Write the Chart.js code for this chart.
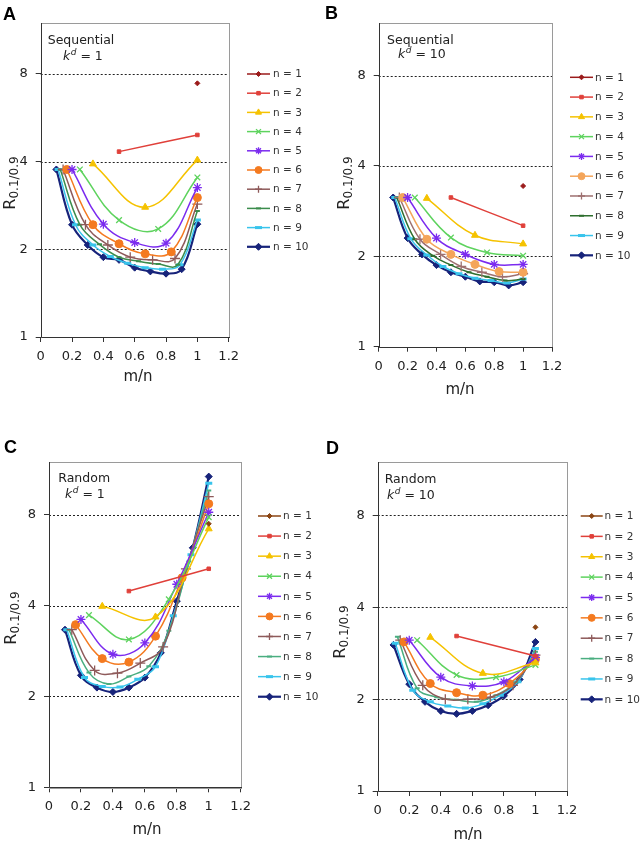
<!DOCTYPE html>
<html>
<head>
<meta charset="utf-8">
<script src="https://cdn.jsdelivr.net/npm/chart.js@4.4.0/dist/chart.umd.min.js"></script>
<style>
  body { margin: 0; background: #fff; width: 644px; height: 845px; position: relative; overflow: hidden; }
  canvas { position: absolute; }
</style>
</head>
<body>
<canvas id="chartA" width="322" height="420" style="left:0;top:0"></canvas>
<canvas id="chartB" width="322" height="420" style="left:322px;top:0"></canvas>
<canvas id="chartC" width="322" height="425" style="left:0;top:420px"></canvas>
<canvas id="chartD" width="322" height="425" style="left:322px;top:420px"></canvas>
<script>
// series labels and axis ticks
const seriesLabels = ["n = 1", "n = 2", "n = 3", "n = 4", "n = 5", "n = 6", "n = 7", "n = 8", "n = 9", "n = 10"];
const xTicks = [0, 0.2, 0.4, 0.6, 0.8, 1, 1.2];
const yTicks = [1, 2, 4, 8];
const yGridValues = [2, 4, 8];

// R values, one list per n (point m sits at x = m/n)
const seqK1 = [
	[7.43],
	[4.33, 4.94],
	[3.93, 2.79, 4.05],
	[3.76, 2.52, 2.35, 3.53],
	[3.76, 2.44, 2.11, 2.10, 3.26],
	[3.76, 2.43, 2.09, 1.93, 1.96, 3.01],
	[3.76, 2.43, 2.07, 1.88, 1.84, 1.86, 2.86],
	[3.76, 2.43, 2.08, 1.88, 1.82, 1.78, 1.77, 2.71],
	[3.76, 2.43, 2.07, 1.89, 1.79, 1.73, 1.71, 1.77, 2.52],
	[3.76, 2.43, 2.07, 1.88, 1.84, 1.73, 1.68, 1.65, 1.71, 2.44]
];
const seqK10 = [
	[3.43],
	[3.14, 2.53],
	[3.12, 2.35, 2.20],
	[3.14, 2.31, 2.06, 2.01],
	[3.14, 2.30, 2.03, 1.88, 1.88],
	[3.14, 2.28, 2.03, 1.88, 1.78, 1.77],
	[3.14, 2.28, 2.03, 1.85, 1.77, 1.71, 1.75],
	[3.14, 2.28, 2.01, 1.87, 1.77, 1.71, 1.66, 1.68],
	[3.14, 2.29, 2.02, 1.85, 1.75, 1.69, 1.66, 1.63, 1.68],
	[3.14, 2.30, 2.03, 1.87, 1.77, 1.71, 1.65, 1.64, 1.60, 1.64]
];
const randK1 = [
	[7.47],
	[4.47, 5.30],
	[3.98, 3.67, 7.19],
	[3.72, 3.09, 4.20, 7.86],
	[3.60, 2.76, 3.01, 4.71, 8.16],
	[3.46, 2.67, 2.60, 3.17, 4.95, 8.70],
	[3.33, 2.44, 2.39, 2.58, 2.92, 5.30, 9.19],
	[3.33, 2.40, 2.20, 2.33, 2.52, 3.30, 5.60, 9.63],
	[3.33, 2.31, 2.16, 2.15, 2.28, 2.51, 3.70, 5.90, 10.18],
	[3.33, 2.35, 2.14, 2.07, 2.14, 2.31, 2.79, 4.14, 6.22, 10.71]
];
const randK10 = [
	[3.44],
	[3.22, 2.77],
	[3.19, 2.43, 2.63],
	[3.12, 2.40, 2.36, 2.59],
	[3.12, 2.36, 2.21, 2.28, 2.74],
	[3.08, 2.25, 2.10, 2.06, 2.25, 2.70],
	[3.12, 2.22, 2.00, 2.00, 2.03, 2.22, 2.79],
	[3.20, 2.17, 2.03, 1.99, 1.96, 2.06, 2.27, 2.86],
	[3.05, 2.14, 1.96, 1.90, 1.87, 1.93, 2.06, 2.28, 2.93],
	[3.01, 2.24, 1.96, 1.83, 1.79, 1.83, 1.91, 2.05, 2.32, 3.08]
];

// colours and markers
const seqK1Colors = ["#9b1b1b", "#e0403a", "#f5c200", "#5ed35e", "#7b2bef", "#f47a20", "#8e5a5a", "#3b8c4c", "#38c4ec", "#17237a"];
const seqK10Colors = ["#9b1b1b", "#e0403a", "#f5c200", "#5ed35e", "#7b2bef", "#f4a55a", "#9e7070", "#2e6f2e", "#38c4ec", "#17237a"];
const randColors = ["#8b4513", "#e0403a", "#f5c200", "#5ed35e", "#7b2bef", "#f47a20", "#8e5a5a", "#4aae80", "#38c4ec", "#17237a"];
const markerStyles = ["rectRot", "rect", "triangle", "crossRot", "star", "circle", "cross", "line", "line", "rectRot"];
const markerSizes = [2.5, 2.5, 4, 4, 4.5, 4, 5, 2.5, 3.5, 3.5];
const markerBorders = [1, 1, 1, 1.3, 1.3, 1, 1.3, 2, 3, 1];

Chart.defaults.font.family = "'DejaVu Sans', Verdana, sans-serif";
Chart.defaults.color = "#222";

const AXIS_W = 30;
const AXIS_H = 30;

// draws frame, dotted grid, panel letter, note, axis titles and the legend
const decoPlugin = {
	id: "deco",
	beforeDatasetsDraw(chart) {
		const ctx = chart.ctx;
		const a = chart.chartArea;
		const ys = chart.scales.y;
		ctx.save();
		ctx.lineWidth = 1;
		ctx.strokeStyle = "#222";
		ctx.setLineDash([2, 2]);
		yGridValues.forEach((v) => {
			const py = Math.round(ys.getPixelForValue(v)) + 0.5;
			ctx.beginPath();
			ctx.moveTo(a.left, py);
			ctx.lineTo(a.right, py);
			ctx.stroke();
		});
		ctx.setLineDash([]);
		ctx.strokeStyle = "#9a9a9a";
		ctx.strokeRect(Math.round(a.left) + 0.5, Math.round(a.top) + 0.5, Math.round(a.right - a.left), Math.round(a.bottom - a.top));
		ctx.strokeStyle = "#333";
		ctx.beginPath();
		ctx.moveTo(Math.round(a.left) + 0.5, Math.round(a.top));
		ctx.lineTo(Math.round(a.left) + 0.5, Math.round(a.bottom) + 0.5);
		ctx.lineTo(Math.round(a.right) + 1, Math.round(a.bottom) + 0.5);
		ctx.stroke();
		ctx.restore();
	},
	afterDraw(chart, args, o) {
		const ctx = chart.ctx;
		ctx.save();

		// panel letter
		ctx.fillStyle = "#000";
		ctx.font = "bold 18px 'Liberation Sans', Arial, sans-serif";
		ctx.textBaseline = "alphabetic";
		ctx.fillText(o.letter, o.letterPos[0], o.letterPos[1]);

		// Sequential / Random and k^d
		ctx.fillStyle = "#222";
		ctx.textBaseline = "middle";
		ctx.font = "12.5px 'DejaVu Sans'";
		ctx.fillText(o.mode, o.modePos[0], o.modePos[1]);
		let x = o.kPos[0];
		const ky = o.kPos[1];
		ctx.font = "italic 12.5px 'DejaVu Sans'";
		ctx.fillText("k", x, ky);
		x += ctx.measureText("k").width + 0.5;
		ctx.font = "italic 9px 'DejaVu Sans'";
		ctx.fillText("d", x, ky - 4);
		x += ctx.measureText("d").width;
		ctx.font = "12.5px 'DejaVu Sans'";
		ctx.fillText(" = " + o.kd, x, ky);

		// x title
		ctx.textAlign = "center";
		ctx.font = "15px 'DejaVu Sans'";
		ctx.fillText("m/n", o.xTitlePos[0], o.xTitlePos[1]);

		// y title R_0.1/0.9 rotated
		ctx.save();
		ctx.translate(o.yTitlePos[0], o.yTitlePos[1]);
		ctx.rotate(-Math.PI / 2);
		ctx.textAlign = "left";
		ctx.font = "16px 'DejaVu Sans'";
		const wR = ctx.measureText("R").width;
		ctx.font = "12px 'DejaVu Sans'";
		const wS = ctx.measureText("0.1/0.9").width;
		const x0 = -(wR + wS) / 2;
		ctx.font = "16px 'DejaVu Sans'";
		ctx.fillText("R", x0, 0);
		ctx.font = "12px 'DejaVu Sans'";
		ctx.fillText("0.1/0.9", x0 + wR, 4);
		ctx.restore();

		// legend: line with marker, then label
		const lg = o.legend;
		chart.data.datasets.forEach((ds, i) => {
			const y = lg.y0 + i * lg.dy;
			ctx.strokeStyle = ds.borderColor;
			ctx.fillStyle = ds.borderColor;
			ctx.lineWidth = ds.borderWidth;
			ctx.beginPath();
			ctx.moveTo(lg.x0, y);
			ctx.lineTo(lg.x1, y);
			ctx.stroke();
			ctx.lineWidth = ds.pointBorderWidth;
			Chart.helpers.drawPoint(ctx, {
				pointStyle: ds.pointStyle,
				radius: Math.min(ds.pointRadius, 3.5),
				borderWidth: ds.pointBorderWidth,
				rotation: 0
			}, (lg.x0 + lg.x1) / 2, y);
			ctx.fillStyle = "#333";
			ctx.textAlign = "left";
			ctx.font = "10.5px 'DejaVu Sans'";
			ctx.fillText(ds.label, lg.tx, y + 0.5);
		});
		ctx.restore();
	}
};

function makePanel(canvasId, values, colors, area, deco) {
	const canvas = document.getElementById(canvasId);
	const W = canvas.width;
	const H = canvas.height;

	const datasets = values.map((vals, i) => {
		const n = i + 1;
		return {
			label: seriesLabels[i],
			data: vals.map((v, k) => ({ x: (k + 1) / n, y: v })),
			borderColor: colors[i],
			backgroundColor: colors[i],
			borderWidth: n === 10 ? 2.2 : 1.5,
			pointStyle: markerStyles[i],
			pointRadius: markerSizes[i],
			pointBorderWidth: markerBorders[i],
			pointBackgroundColor: colors[i],
			pointBorderColor: colors[i],
			tension: 0.4,
			fill: false
		};
	});

	return new Chart(canvas, {
		type: "line",
		data: { datasets: datasets },
		plugins: [decoPlugin],
		options: {
			responsive: false,
			animation: false,
			devicePixelRatio: 1,
			layout: {
				padding: {
					left: area.left - AXIS_W,
					top: area.top,
					right: W - area.right,
					bottom: H - area.bottom - AXIS_H
				}
			},
			plugins: {
				legend: { display: false },
				tooltip: { enabled: false },
				deco: deco
			},
			scales: {
				x: {
					type: "linear",
					min: 0,
					max: 1.2,
					afterBuildTicks: (s) => { s.ticks = xTicks.map((v) => ({ value: v })); },
					afterFit: (s) => { s.height = AXIS_H; },
					ticks: {
						font: { size: 13 },
						color: "#222",
						padding: 7,
						maxRotation: 0,
						autoSkip: false,
						callback: (v) => String(v)
					},
					grid: {
						drawOnChartArea: false,
						drawTicks: true,
						tickLength: 5,
						tickColor: "#333"
					},
					border: { display: false }
				},
				y: {
					type: "logarithmic",
					min: 1,
					max: 12,
					afterBuildTicks: (s) => { s.ticks = yTicks.map((v) => ({ value: v })); },
					afterFit: (s) => { s.width = AXIS_W; },
					ticks: {
						font: { size: 13 },
						color: "#222",
						padding: 8,
						autoSkip: false,
						callback: (v) => String(v)
					},
					grid: {
						drawOnChartArea: false,
						drawTicks: true,
						tickLength: 5,
						tickColor: "#333"
					},
					border: { display: false }
				}
			}
		}
	});
}

makePanel("chartA", seqK1, seqK1Colors,
	{ left: 40.7, top: 22.7, right: 228.7, bottom: 337 },
	{
		letter: "A", letterPos: [3, 20],
		mode: "Sequential", modePos: [47.7, 41], kd: "1", kPos: [63, 57],
		xTitlePos: [138, 377], yTitlePos: [11, 183],
		legend: { x0: 247, x1: 270, tx: 273, y0: 74, dy: 19.2 }
	});

makePanel("chartB", seqK10, seqK10Colors,
	{ left: 56.7, top: 22.7, right: 230, bottom: 346.7 },
	{
		letter: "B", letterPos: [3, 18.5],
		mode: "Sequential", modePos: [65, 41], kd: "10", kPos: [76, 55],
		xTitlePos: [138, 390], yTitlePos: [23, 183],
		legend: { x0: 248, x1: 271, tx: 273, y0: 77.3, dy: 19.78 }
	});

makePanel("chartC", randK1, randColors,
	{ left: 49, top: 41.7, right: 240.7, bottom: 367.3 },
	{
		letter: "C", letterPos: [4, 33],
		mode: "Random", modePos: [58.3, 59], kd: "1", kPos: [65, 75],
		xTitlePos: [147, 410], yTitlePos: [12, 198],
		legend: { x0: 258, x1: 281, tx: 283, y0: 96, dy: 20.08 }
	});

makePanel("chartD", randK10, randColors,
	{ left: 55.7, top: 41.7, right: 245, bottom: 371 },
	{
		letter: "D", letterPos: [4, 33.5],
		mode: "Random", modePos: [62.7, 59.3], kd: "10", kPos: [65, 76],
		xTitlePos: [146, 415], yTitlePos: [19, 212],
		legend: { x0: 258.7, x1: 280.7, tx: 282.5, y0: 96, dy: 20.37 }
	});
</script>
</body>
</html>
